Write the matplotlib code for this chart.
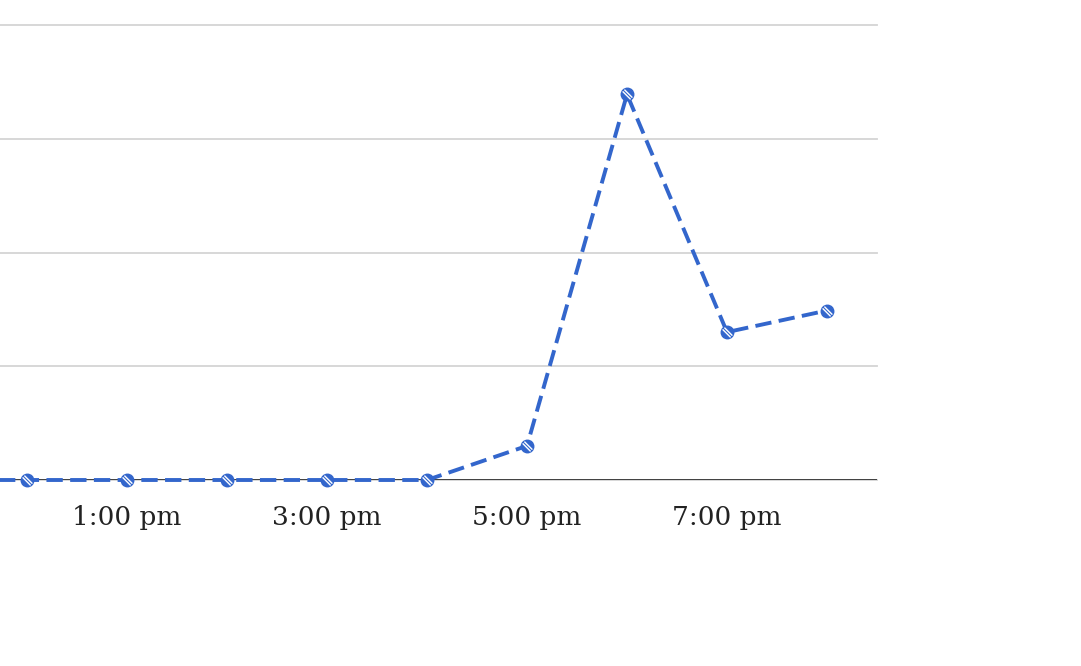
import matplotlib
matplotlib.use("Agg")
import matplotlib.pyplot as plt
from matplotlib.path import Path

hours = [11, 12, 13, 14, 15, 16, 17, 18, 19, 20]
values = [0, 0, 0, 0, 0, 0, 0.3, 3.39, 1.3, 1.49]
tick_hours = [13, 15, 17, 19]
tick_labels = ["1:00 pm", "3:00 pm", "5:00 pm", "7:00 pm"]

fig = plt.figure(figsize=(10.81, 6.66), dpi=100)
ax = fig.add_axes([-123/1081, 186/666, 1000/1081, 455/666])

color = "#3366cc"
ax.plot(hours, values, color=color, lw=2.8, ls=(0, (4.2, 1.9)), zorder=3,
        marker="o", ms=9, markerfacecolor=color, markeredgecolor=color, clip_on=False)
# white stripes inside markers, running from upper-left to lower-right
stripe = Path([(-0.35, 0.55), (0.55, -0.35), (-0.55, 0.35), (0.35, -0.55)],
              [Path.MOVETO, Path.LINETO, Path.MOVETO, Path.LINETO])
ax.plot(hours, values, ls="none", marker=stripe, ms=7, markeredgecolor="white",
        markeredgewidth=1.0, zorder=4, clip_on=False)

ax.set_xlim(10.5, 20.5)
ax.set_ylim(0, 4)
ax.set_yticks([0, 1, 2, 3, 4])
ax.yaxis.grid(True, color="#d4d4d4", lw=1.3)
for gl in ax.yaxis.get_gridlines():
    gl.set_clip_on(False)
ax.axhline(0, color="#333333", lw=1.3, zorder=2)
ax.set_axisbelow(True)
for s in ax.spines.values():
    s.set_visible(False)
ax.set_xticks(tick_hours)
ax.set_xticklabels(tick_labels, fontsize=19, family="DejaVu Serif", color="#222222")
ax.tick_params(axis="x", length=0, pad=18)
ax.tick_params(axis="y", length=0, labelleft=False)

fig.savefig("out.png", dpi=100)
